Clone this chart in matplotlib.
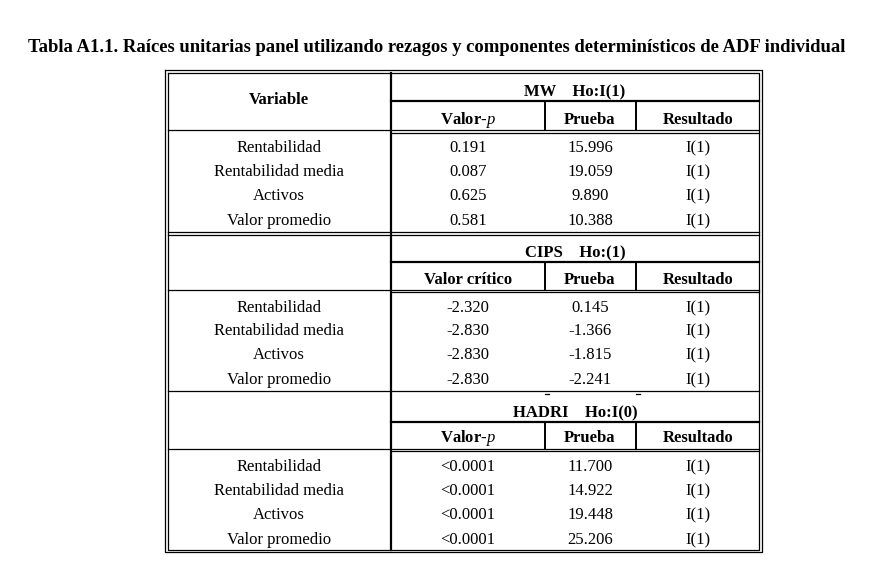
import matplotlib
matplotlib.use('Agg')
import matplotlib.pyplot as plt

plt.rcParams['font.family'] = 'Liberation Serif'
plt.rcParams['mathtext.fontset'] = 'custom'
plt.rcParams['mathtext.it'] = 'Liberation Serif:italic'
plt.rcParams['mathtext.rm'] = 'Liberation Serif'

title = 'Tabla A1.1. Raíces unitarias panel utilizando rezagos y componentes determinísticos de ADF individual'
variables = ['Rentabilidad', 'Rentabilidad media', 'Activos', 'Valor promedio']

# three tests, each a block of the table
tests = ['MW    Ho:I(1)', 'CIPS    Ho:(1)', 'HADRI    Ho:I(0)']
first_cols = ['Valor-$p$', 'Valor crítico', 'Valor-$p$']
mw_p = ['0.191', '0.087', '0.625', '0.581']
mw_stat = ['15.996', '19.059', '9.890', '10.388']
mw_res = ['I(1)', 'I(1)', 'I(1)', 'I(1)']
cips_crit = ['-2.320', '-2.830', '-2.830', '-2.830']
cips_stat = ['0.145', '-1.366', '-1.815', '-2.241']
cips_res = ['I(1)', 'I(1)', 'I(1)', 'I(1)']
hadri_p = ['<0.0001', '<0.0001', '<0.0001', '<0.0001']
hadri_stat = ['11.700', '14.922', '19.448', '25.206']
hadri_res = ['I(1)', 'I(1)', 'I(1)', 'I(1)']

blocks = [(mw_p, mw_stat, mw_res), (cips_crit, cips_stat, cips_res),
          (hadri_p, hadri_stat, hadri_res)]

fig = plt.figure(figsize=(8.69, 5.77), dpi=100)
ax = fig.add_axes([0, 0, 1, 1])
ax.set_xlim(0, 869)
ax.set_ylim(577, 0)
ax.axis('off')

fs = 12
lw = 0.9
L_out, L_in, R_in, R_out = 165, 167.5, 759, 762
x_div = 391
c1, c2 = 545, 636
xc = [279, 468, 590, 698]

ax.text(28, 47, title, fontsize=13.45, fontweight='bold', va='center', ha='left')

# outer double border
ax.plot([L_out, R_out, R_out, L_out, L_out], [70, 70, 552, 552, 70], color='k', lw=lw)
ax.plot([L_in, R_in, R_in, L_in, L_in], [72.5, 72.5, 549.5, 549.5, 72.5], color='k', lw=lw)

# vertical divider after Variable column
ax.plot([x_div, x_div], [72.5, 549.5], color='k', lw=1.6)

# block geometry: top, test line, sub-header bottom, row ys
tops = [72.5, 234, 393]
test_y = [101, 262, 422]
sub_y = [130, 289.5, 448.5]
row_y = [[148, 172, 196, 221], [308, 331, 355, 380], [467, 491, 515, 540]]

for b in range(3):
    t, ty, sy = tops[b], test_y[b], sub_y[b]
    if b == 1:
        ax.plot([L_in, R_in], [t - 2, t - 2], color='k', lw=lw)
        ax.plot([L_in, R_in], [t + 0.5, t + 0.5], color='k', lw=lw)
    elif b == 2:
        # single separator, second rule only survives as small dashes
        ax.plot([L_in, R_in], [t - 2, t - 2], color='k', lw=lw)
        for xm in [c1 + 2, c2 + 2]:
            ax.plot([xm - 2, xm + 2], [t + 1, t + 1], color='k', lw=lw)
    ax.plot([x_div, R_in], [ty, ty], color='k', lw=1.6)
    ax.plot([c1, c1], [ty, sy], color='k', lw=1.4)
    ax.plot([c2, c2], [ty, sy], color='k', lw=1.4)
    ax.plot([L_in, R_in], [sy, sy], color='k', lw=lw)
    ax.plot([x_div, R_in], [sy + 2.5, sy + 2.5], color='k', lw=lw)

    ax.text((x_div + R_in) / 2, ty - 9, tests[b], fontsize=fs,
            fontweight='bold', ha='center', va='center')
    heads = [first_cols[b], 'Prueba', 'Resultado']
    for j, h in enumerate(heads):
        ax.text(xc[j + 1], sy - 10, h, fontsize=fs, fontweight='bold',
                ha='center', va='center')
    if b == 0:
        ax.text(xc[0], 100, 'Variable', fontsize=fs, fontweight='bold',
                ha='center', va='center')
    cols = blocks[b]
    for i, v in enumerate(variables):
        y = row_y[b][i]
        ax.text(xc[0], y, v, fontsize=fs, ha='center', va='center')
        for j in range(3):
            ax.text(xc[j + 1], y, cols[j][i], fontsize=fs, ha='center', va='center')

fig.savefig('out.png', dpi=100, facecolor='white')
